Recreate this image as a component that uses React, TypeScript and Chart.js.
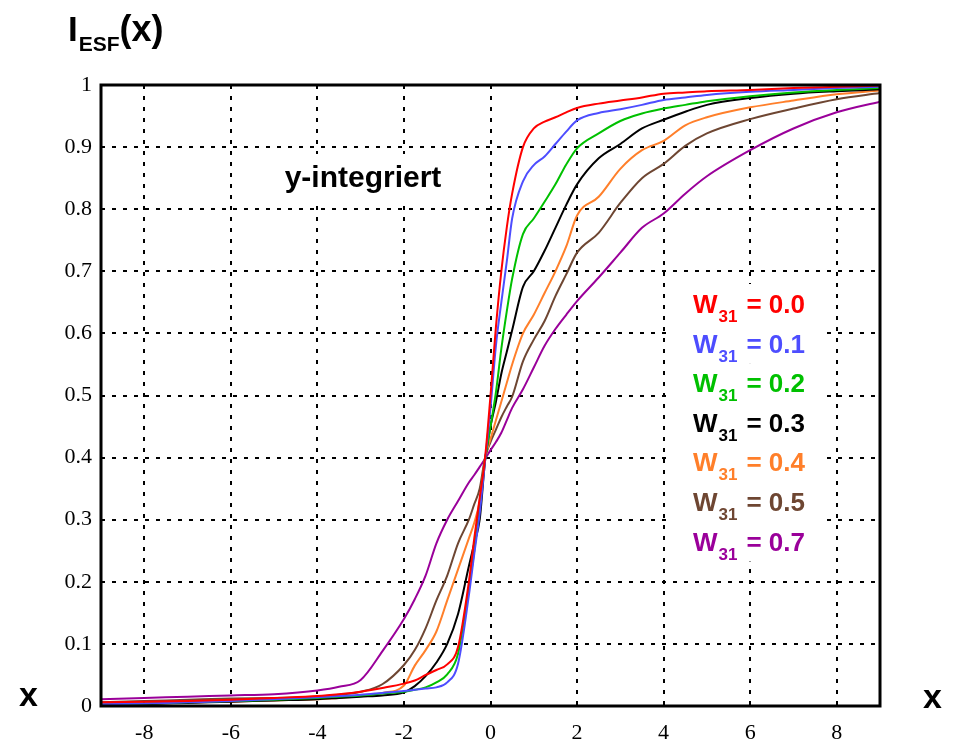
import React, { useEffect, useRef } from "react";
import { Chart, registerables } from "chart.js";

Chart.register(...registerables);

// ---- data ----
const xValues = [
  -9, -8, -7, -6, -5, -4, -3.5, -3, -2.5, -2, -1.75, -1.5, -1.25, -1, -0.75, -0.5, -0.375, -0.25, -0.125,
  0, 0.125, 0.25, 0.375, 0.5, 0.75, 1, 1.25, 1.5, 1.75, 2, 2.5, 3, 3.5, 4, 4.5, 5, 6, 7, 8, 9,
];

const w00 = [
  0.006, 0.007, 0.008, 0.010, 0.013, 0.016, 0.019, 0.023, 0.029, 0.036, 0.041, 0.050, 0.058, 0.067, 0.095, 0.20, 0.27, 0.335, 0.40,
  0.50, 0.61, 0.70, 0.77, 0.825, 0.90, 0.93, 0.941, 0.948, 0.956, 0.963, 0.970, 0.975, 0.980, 0.986, 0.988, 0.990, 0.992, 0.995, 0.997, 0.999,
];
const w01 = [
  0.003, 0.004, 0.006, 0.008, 0.011, 0.014, 0.016, 0.018, 0.021, 0.024, 0.026, 0.028, 0.030, 0.038, 0.068, 0.178, 0.245, 0.31, 0.395,
  0.48, 0.58, 0.65, 0.715, 0.785, 0.845, 0.871, 0.885, 0.905, 0.925, 0.943, 0.955, 0.961, 0.968, 0.976, 0.980, 0.984, 0.989, 0.992, 0.995, 0.997,
];
const w02 = [
  0.002, 0.004, 0.006, 0.008, 0.010, 0.013, 0.015, 0.017, 0.020, 0.023, 0.026, 0.030, 0.038, 0.051, 0.084, 0.19, 0.25, 0.32, 0.397,
  0.45, 0.505, 0.575, 0.635, 0.688, 0.76, 0.785, 0.812, 0.84, 0.872, 0.898, 0.922, 0.942, 0.954, 0.962, 0.968, 0.974, 0.982, 0.988, 0.992, 0.995,
];
const w03 = [
  0.002, 0.003, 0.005, 0.007, 0.009, 0.011, 0.013, 0.015, 0.017, 0.022, 0.032, 0.048, 0.07, 0.10, 0.148, 0.225, 0.262, 0.30, 0.395,
  0.45, 0.49, 0.535, 0.57, 0.605, 0.675, 0.70, 0.733, 0.77, 0.807, 0.84, 0.882, 0.905, 0.93, 0.944, 0.957, 0.968, 0.979, 0.986, 0.990, 0.993,
];
const w04 = [
  0.003, 0.004, 0.006, 0.007, 0.009, 0.011, 0.013, 0.016, 0.021, 0.033, 0.065, 0.09, 0.12, 0.17, 0.22, 0.27, 0.295, 0.33, 0.398,
  0.43, 0.46, 0.49, 0.52, 0.55, 0.60, 0.63, 0.665, 0.70, 0.74, 0.79, 0.82, 0.865, 0.895, 0.91, 0.935, 0.948, 0.964, 0.975, 0.985, 0.991,
];
const w05 = [
  0.006, 0.008, 0.010, 0.012, 0.013, 0.015, 0.018, 0.023, 0.035, 0.066, 0.09, 0.125, 0.17, 0.21, 0.262, 0.30, 0.325, 0.35, 0.40,
  0.425, 0.445, 0.465, 0.482, 0.498, 0.555, 0.59, 0.62, 0.66, 0.695, 0.73, 0.762, 0.81, 0.85, 0.873, 0.902, 0.922, 0.945, 0.962, 0.977, 0.987,
];
const w07 = [
  0.011, 0.013, 0.015, 0.017, 0.019, 0.025, 0.031, 0.042, 0.088, 0.14, 0.172, 0.21, 0.262, 0.30, 0.33, 0.36, 0.372, 0.385, 0.398,
  0.412, 0.425, 0.44, 0.46, 0.48, 0.51, 0.545, 0.58, 0.607, 0.63, 0.652, 0.69, 0.73, 0.77, 0.793, 0.825, 0.853, 0.895, 0.93, 0.956, 0.973,
];

const seriesValues = [w00, w01, w02, w03, w04, w05, w07];
const seriesLabels = ["0.0", "0.1", "0.2", "0.3", "0.4", "0.5", "0.7"];
const seriesColors = ["#ff0000", "#4d4dff", "#00c000", "#000000", "#ff7f2a", "#6e4632", "#9a009a"];

const xTicks = [-8, -6, -4, -2, 0, 2, 4, 6, 8];
const yTicks = [0, 0.1, 0.2, 0.3, 0.4, 0.5, 0.6, 0.7, 0.8, 0.9, 1];
const yTickLabels = ["0", "0.1", "0.2", "0.3", "0.4", "0.5", "0.6", "0.7", "0.8", "0.9", "1"];

const SANS = "'Liberation Sans', Arial, sans-serif";
const SERIF = "'Liberation Serif', 'Times New Roman', serif";

const overlayPlugin = {
  id: "overlay",
  afterDraw(chart: any) {
    const ctx = chart.ctx as CanvasRenderingContext2D;
    const { left, right, top, bottom } = chart.chartArea;
    ctx.save();

    // frame
    ctx.setLineDash([]);
    ctx.strokeStyle = "#000";
    ctx.lineWidth = 3;
    ctx.strokeRect(left, top, right - left, bottom - top);

    // title I_ESF(x)
    ctx.fillStyle = "#000";
    ctx.textBaseline = "alphabetic";
    ctx.textAlign = "left";
    ctx.font = `bold 35px ${SANS}`;
    let tx = 68;
    ctx.fillText("I", tx, 41);
    tx += ctx.measureText("I").width + 1;
    ctx.font = `bold 21px ${SANS}`;
    ctx.fillText("ESF", tx, 51);
    tx += ctx.measureText("ESF").width;
    ctx.font = `bold 36px ${SANS}`;
    ctx.fillText("(x)", tx, 41);

    // axis "x" labels
    ctx.font = `bold 34px ${SANS}`;
    ctx.fillText("x", 19, 706);
    ctx.fillText("x", 923, 708);

    // y-integriert with white background
    ctx.fillStyle = "#fff";
    ctx.fillRect(276, 154, 175, 51);
    ctx.fillStyle = "#000";
    ctx.font = `bold 30px ${SANS}`;
    ctx.textAlign = "center";
    ctx.fillText("y-integriert", 363, 187);

    // legend
    ctx.textAlign = "left";
    for (let i = 0; i < seriesLabels.length; i++) {
      const base = 313 + i * 39.6;
      ctx.fillStyle = "#fff";
      ctx.fillRect(673, base - 29, 149, 40);
    }
    for (let i = 0; i < seriesLabels.length; i++) {
      const base = 313 + i * 39.6;
      ctx.fillStyle = seriesColors[i];
      let lx = 693;
      ctx.font = `bold 26px ${SANS}`;
      ctx.fillText("W", lx, base);
      lx += ctx.measureText("W").width + 1;
      ctx.font = `bold 17px ${SANS}`;
      ctx.fillText("31", lx, base + 9);
      lx += ctx.measureText("31").width + 9;
      ctx.font = `bold 26px ${SANS}`;
      ctx.fillText("= " + seriesLabels[i], lx, base);
    }
    ctx.restore();
  },
};

export default function App() {
  const canvasRef = useRef<HTMLCanvasElement | null>(null);

  useEffect(() => {
    const canvas = canvasRef.current;
    if (!canvas) return;
    const datasets = seriesValues.map((vals, i) => ({
      label: "W31 = " + seriesLabels[i],
      data: xValues.map((x, j) => ({ x, y: vals[j] })),
      borderColor: seriesColors[i],
      backgroundColor: seriesColors[i],
      borderWidth: 2,
      pointRadius: 0,
      cubicInterpolationMode: "monotone" as const,
      fill: false,
    }));
    const chart = new Chart(canvas, {
      type: "line",
      data: { datasets },
      options: {
        animation: false,
        responsive: false,
        devicePixelRatio: 1,
        layout: { padding: { left: 0, top: 85, right: 76, bottom: 0 } },
        plugins: { legend: { display: false }, tooltip: { enabled: false } },
        scales: {
          x: {
            type: "linear",
            min: -9,
            max: 9,
            afterBuildTicks: (scale: any) => {
              scale.ticks = xTicks.map((v) => ({ value: v }));
            },
            afterFit: (scale: any) => {
              scale.height = 40;
            },
            ticks: {
              autoSkip: false,
              maxRotation: 0,
              color: "#000",
              padding: 14,
              font: { family: SERIF, size: 22 },
              callback: (v: any) => String(v),
            },
            grid: { color: "#000", lineWidth: 2, drawTicks: false },
            border: { display: false, dash: [4, 7] },
          },
          y: {
            type: "linear",
            min: 0,
            max: 1,
            afterBuildTicks: (scale: any) => {
              scale.ticks = yTicks.map((v) => ({ value: v }));
            },
            afterFit: (scale: any) => {
              scale.width = 101;
            },
            ticks: {
              autoSkip: false,
              color: "#000",
              padding: 9,
              font: { family: SERIF, size: 22 },
              callback: (_v: any, idx: number) => yTickLabels[idx],
            },
            grid: { color: "#000", lineWidth: 2, drawTicks: false },
            border: { display: false, dash: [4, 7] },
          },
        },
      },
      plugins: [overlayPlugin],
    });
    return () => chart.destroy();
  }, []);

  return (
    <div style={{ position: "fixed", left: 0, top: 0, width: 956, height: 746, background: "#fff" }}>
      <canvas ref={canvasRef} width={956} height={746} style={{ width: 956, height: 746, display: "block" }} />
    </div>
  );
}
